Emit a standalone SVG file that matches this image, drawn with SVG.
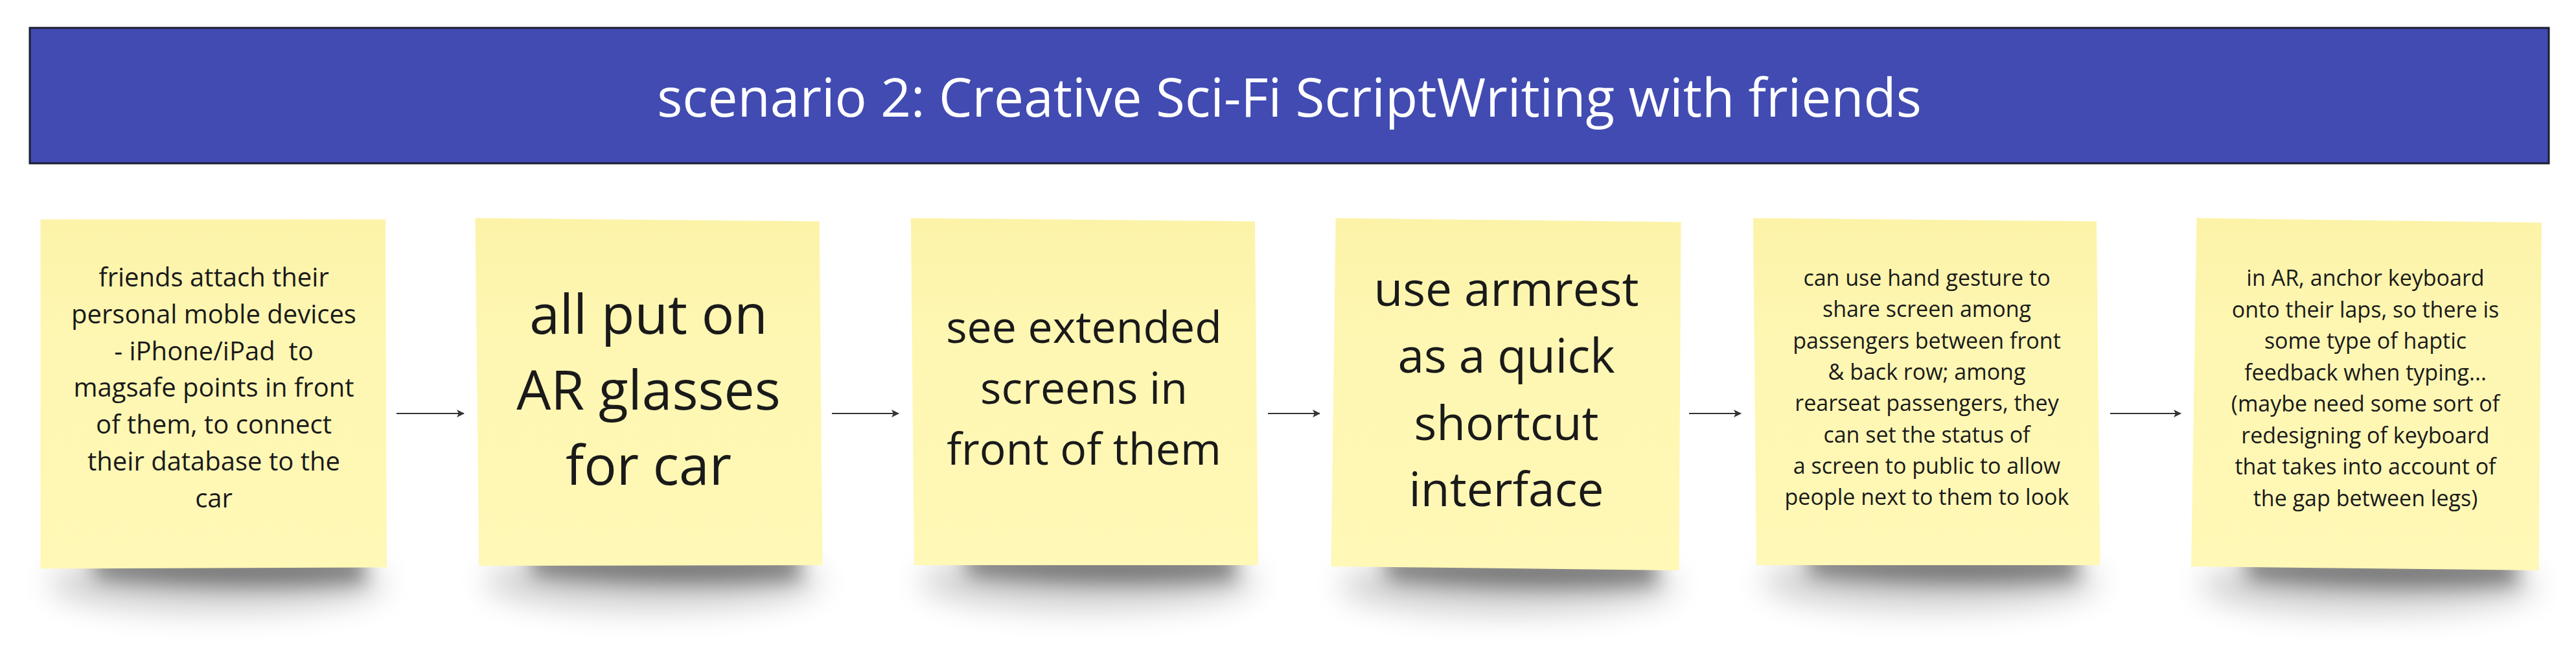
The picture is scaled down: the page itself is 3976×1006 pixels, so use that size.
<svg xmlns="http://www.w3.org/2000/svg" width="3976" height="1006" viewBox="0 0 3976 1006">
  <style>
    .note { fill: url(#noteFill); }
    .txt { font-family: "Open Sans", "Noto Sans", "DejaVu Sans", sans-serif; fill: #1a1a1a; text-anchor: middle; white-space: pre; }
    .s40 { font-size: 40px; }
    .s34 { font-size: 34px; }
    .title { font-family: "Open Sans", "Noto Sans", sans-serif; font-size: 82px; fill: #ffffff; text-anchor: middle; }
    .conn { stroke: #333333; stroke-width: 2; fill: none; marker-end: url(#arrow); }
    .sh1 { fill: #000000; opacity: 0.42; filter: url(#blurA); }
    .sh2 { fill: #000000; opacity: 0.2; filter: url(#blurB); }
  </style>
  <defs>
    <linearGradient id="noteFill" x1="0" y1="0" x2="0" y2="1">
      <stop offset="0" stop-color="#FCF3A8"/>
      <stop offset="0.35" stop-color="#FEF7B3"/>
      <stop offset="1" stop-color="#FFF8B6"/>
    </linearGradient>
    <filter id="blurA" x="-20%" y="-100%" width="140%" height="300%">
      <feGaussianBlur stdDeviation="15"/>
    </filter>
    <filter id="blurB" x="-20%" y="-100%" width="140%" height="300%">
      <feGaussianBlur stdDeviation="24"/>
    </filter>
    <marker id="arrow" markerWidth="14" markerHeight="14" refX="11" refY="6" orient="auto" markerUnits="userSpaceOnUse">
      <path d="M0,0 L12,6 L0,12 L3,6 Z" fill="#333333"/>
    </marker>
  </defs>

  <g id="banner">
    <rect x="46" y="43" width="3888" height="209" fill="#414BB2" stroke="#1B1E2E" stroke-width="3"/>
    <text class="title" x="1990" y="180">scenario 2: Creative Sci-Fi ScriptWriting with friends</text>
  </g>

  <g id="connectors">
    <line class="conn" x1="612" y1="638" x2="716" y2="638"/>
    <line class="conn" x1="1284" y1="638" x2="1387" y2="638"/>
    <line class="conn" x1="1957" y1="638" x2="2037" y2="638"/>
    <line class="conn" x1="2607" y1="638" x2="2687" y2="638"/>
    <line class="conn" x1="3257" y1="638" x2="3366" y2="638"/>
  </g>

  <g id="note1">
    <ellipse class="sh2" cx="335" cy="900" rx="260" ry="42"/>
    <path class="sh1" d="M140,855 L560,852 L565,898 Q360,912 150,892 Z"/>
    <polygon class="note" points="62.5,338.6 595,338.6 597,875.5 62.5,877.5"/>
    <text class="txt s40" x="330" y="442">friends attach their</text>
    <text class="txt s40" x="330" y="498.8">personal moble devices</text>
    <text class="txt s40" x="330" y="555.6">- iPhone/iPad  to</text>
    <text class="txt s40" x="330" y="612.4">magsafe points in front</text>
    <text class="txt s40" x="330" y="669.2">of them, to connect</text>
    <text class="txt s40" x="330" y="726">their database to the</text>
    <text class="txt s40" x="330" y="782.8">car</text>
  </g>

  <g id="note2">
    <ellipse class="sh2" cx="1008" cy="897" rx="260" ry="42"/>
    <path class="sh1" d="M815,850 L1232,848 L1237,894 Q1030,908 825,888 Z"/>
    <polygon class="note" points="733.5,336.5 1264.7,341.5 1269.6,872 739.3,873"/>
    <text class="txt" style="font-size:84px" x="1001" y="515">all put on</text>
    <text class="txt" style="font-size:84px" x="1001" y="632">AR glasses</text>
    <text class="txt" style="font-size:84px" x="1001" y="748">for car</text>
  </g>

  <g id="note3">
    <ellipse class="sh2" cx="1680" cy="897" rx="260" ry="42"/>
    <path class="sh1" d="M1486,850 L1904,848 L1909,894 Q1700,908 1496,888 Z"/>
    <polygon class="note" points="1405.8,336.5 1937,341.5 1942,872 1411,872"/>
    <text class="txt" style="font-size:68px" x="1673" y="529">see extended</text>
    <text class="txt" style="font-size:68px" x="1673" y="623">screens in</text>
    <text class="txt" style="font-size:68px" x="1673" y="717">front of them</text>
  </g>

  <g id="note4">
    <ellipse class="sh2" cx="2328" cy="903" rx="260" ry="42"/>
    <path class="sh1" d="M2134,855 L2554,856 L2559,901 Q2350,914 2144,894 Z"/>
    <polygon class="note" points="2061.6,336.5 2594.6,342.7 2591.5,880 2054.5,874"/>
    <text class="txt" style="font-size:73px" x="2325" y="472">use armrest</text>
    <text class="txt" style="font-size:73px" x="2325" y="575">as a quick</text>
    <text class="txt" style="font-size:73px" x="2325" y="678.5">shortcut</text>
    <text class="txt" style="font-size:73px" x="2325" y="781">interface</text>
  </g>

  <g id="note5">
    <ellipse class="sh2" cx="2980" cy="897" rx="260" ry="42"/>
    <path class="sh1" d="M2786,850 L3204,848 L3209,894 Q3000,908 2796,888 Z"/>
    <polygon class="note" points="2705.8,336.5 3236,341.5 3241.5,872 2711,872"/>
    <text class="txt s34" x="2974" y="441">can use hand gesture to</text>
    <text class="txt s34" x="2974" y="489.3">share screen among</text>
    <text class="txt s34" x="2974" y="537.6">passengers between front</text>
    <text class="txt s34" x="2974" y="585.9">&amp; back row; among</text>
    <text class="txt s34" x="2974" y="634.2">rearseat passengers, they</text>
    <text class="txt s34" x="2974" y="682.5">can set the status of</text>
    <text class="txt s34" x="2974" y="730.8">a screen to public to allow</text>
    <text class="txt s34" x="2974" y="779.1">people next to them to look</text>
  </g>

  <g id="note6">
    <ellipse class="sh2" cx="3656" cy="903" rx="260" ry="42"/>
    <path class="sh1" d="M3462,855 L3882,856 L3887,901 Q3678,914 3472,894 Z"/>
    <polygon class="note" points="3390.5,336.5 3923,343.5 3918.5,880 3382,874"/>
    <text class="txt s34" x="3651" y="441">in AR, anchor keyboard</text>
    <text class="txt s34" x="3651" y="489.6">onto their laps, so there is</text>
    <text class="txt s34" x="3651" y="538.1">some type of haptic</text>
    <text class="txt s34" x="3651" y="586.7">feedback when typing...</text>
    <text class="txt s34" x="3651" y="635.3">(maybe need some sort of</text>
    <text class="txt s34" x="3651" y="683.9">redesigning of keyboard</text>
    <text class="txt s34" x="3651" y="732.4">that takes into account of</text>
    <text class="txt s34" x="3651" y="781">the gap between legs)</text>
  </g>
</svg>
